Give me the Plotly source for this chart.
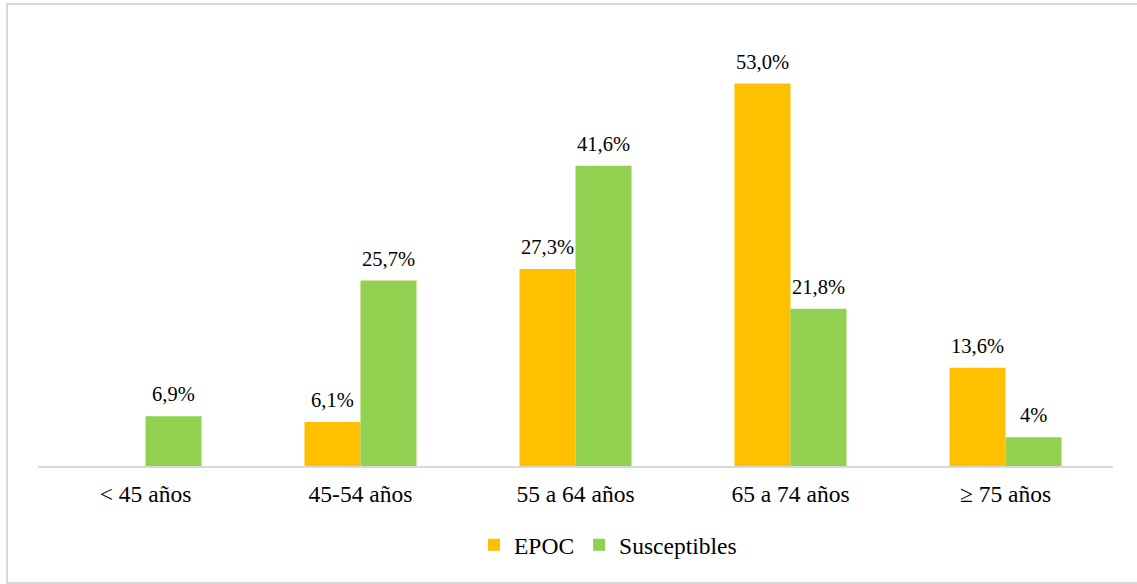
import plotly.graph_objects as go

categories = ["< 45 años", "45-54 años", "55 a 64 años", "65 a 74 años", "≥ 75 años"]
epoc = [None, 6.1, 27.3, 53.0, 13.6]
susceptibles = [6.9, 25.7, 41.6, 21.8, 4.0]
epoc_labels = ["", "6,1%", "27,3%", "53,0%", "13,6%"]
susc_labels = ["6,9%", "25,7%", "41,6%", "21,8%", "4%"]

W, H = 1137, 584
ML, MR, MT, MB = 38, 24, 33, 118
FONT = "Liberation Serif"
plot_w = W - ML - MR
bargap = 0.479
bar_w = plot_w / len(categories) * (1 - bargap) / 2

fig = go.Figure()
fig.add_trace(go.Bar(name="EPOC", x=categories, y=epoc, marker=dict(color="#FFC000", line=dict(width=0))))
fig.add_trace(go.Bar(name="Susceptibles", x=categories, y=susceptibles, marker=dict(color="#92D050", line=dict(width=0))))

annotations = []
for cat, v, t in zip(categories, epoc, epoc_labels):
    if v is not None and t:
        annotations.append(dict(x=cat, y=v, text=t, xref="x", yref="y", showarrow=False,
                                yanchor="bottom", xshift=-bar_w / 2, yshift=9,
                                font=dict(family=FONT, size=20.5, color="#000000")))
for cat, v, t in zip(categories, susceptibles, susc_labels):
    annotations.append(dict(x=cat, y=v, text=t, xref="x", yref="y", showarrow=False,
                            yanchor="bottom", xshift=bar_w / 2, yshift=9,
                            font=dict(family=FONT, size=20.5, color="#000000")))

plot_h = H - MT - MB
fig.update_layout(
    width=W, height=H,
    margin=dict(l=ML, r=MR, t=MT, b=MB, pad=0),
    paper_bgcolor="white", plot_bgcolor="white",
    barmode="group", bargap=bargap, bargroupgap=0,
    font=dict(family=FONT, size=23.5, color="#000000"),
    xaxis=dict(showline=True, linecolor="#D9D9D9", linewidth=2, ticks="", showgrid=False,
               tickfont=dict(family=FONT, size=23.5, color="#000000"), ticklabelstandoff=6),
    yaxis=dict(range=[0, 60], visible=False, showgrid=False, zeroline=False),
    showlegend=True,
    legend=dict(orientation="h", x=0.5 + 32.5 / plot_w, xanchor="center", y=-(545 - 466) / plot_h, yanchor="middle",
                font=dict(family=FONT, size=23.5, color="#000000"), itemwidth=30,
                traceorder="normal"),
    annotations=annotations,
    shapes=[dict(type="rect", xref="paper", yref="paper",
                 x0=(7 - ML) / plot_w, x1=(1150 - ML) / plot_w,
                 y0=(H - MB - 583) / plot_h, y1=(H - MB - 4) / plot_h,
                 line=dict(color="#D9D9D9", width=2), fillcolor="rgba(0,0,0,0)", layer="below")],
)

fig.write_html("out.html")
